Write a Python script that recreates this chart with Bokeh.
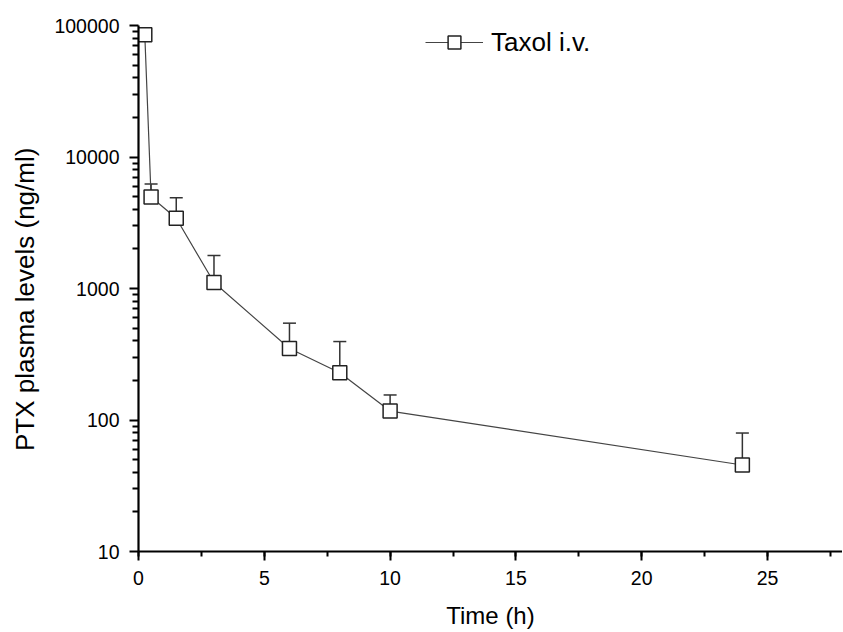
from bokeh.plotting import figure
from bokeh.models import (FixedTicker, SingleIntervalTicker, NumeralTickFormatter, Whisker,
                          ColumnDataSource, TeeHead, Range1d)
from bokeh.embed import file_html
from bokeh.resources import INLINE

# data
time_h = [0.25, 0.5, 1.5, 3, 6, 8, 10, 24]
ptx_mean = [85000, 4970, 3420, 1110, 350, 229, 117, 45.5]
ptx_upper = [85000, 6240, 4900, 1780, 545, 395, 155, 79.6]
y_major = [10, 100, 1000, 10000, 100000]
series_label = "Taxol i.v."
x_title = "Time (h)"
y_title = "PTX plasma levels (ng/ml)"

src = ColumnDataSource(dict(t=time_h, y=ptx_mean, up=ptx_upper))

FONT = "Liberation Sans"
p = figure(width=842, height=632, output_backend="svg", toolbar_location=None,
           y_axis_type="log", x_range=Range1d(0, 27.98), y_range=Range1d(10, 100000),
           min_border_left=138, min_border_right=0, min_border_top=25, min_border_bottom=81)
p.outline_line_color = None
p.xgrid.visible = False
p.ygrid.visible = False

w = Whisker(source=src, base="t", lower="y", upper="up", line_color="#333333", line_width=1.5,
            upper_head=TeeHead(size=13, line_color="#333333", line_width=1.5), lower_head=None)
p.add_layout(w)

p.line("t", "y", source=src, line_color="#444444", line_width=1.2, legend_label=series_label)
p.scatter("t", "y", source=src, marker="square", size=14, fill_color="white",
          line_color="#222222", line_width=1.5, legend_label=series_label)

minor = []
for d in y_major[:-1]:
    for k in range(2, 10):
        minor.append(d * k)
p.yaxis.ticker = FixedTicker(ticks=y_major, minor_ticks=minor)
p.yaxis.formatter = NumeralTickFormatter(format="0")
p.xaxis.ticker = SingleIntervalTicker(interval=5, num_minor_ticks=2)

for ax in (p.xaxis, p.yaxis):
    ax.axis_line_width = 2.2
    ax.axis_line_color = "black"
    ax.major_tick_line_width = 2
    ax.minor_tick_line_width = 2
    ax.major_tick_in = 0
    ax.minor_tick_in = 0
    ax.major_tick_out = 9
    ax.minor_tick_out = 6
    ax.major_label_text_font = FONT
    ax.major_label_text_font_size = "19.5px"
    ax.major_label_text_color = "black"
    ax.axis_label_text_font = FONT
    ax.axis_label_text_font_style = "normal"
    ax.axis_label_text_color = "black"

p.xaxis.minor_tick_out = 5
p.xaxis.axis_label = x_title
p.yaxis.axis_label = y_title + "\u00a0\u00a0\u00a0"
p.xaxis.axis_label_text_font_size = "24px"
p.yaxis.axis_label_text_font_size = "26px"
p.xaxis.major_label_standoff = 10
p.yaxis.major_label_standoff = 10
p.xaxis.axis_label_standoff = 14
p.yaxis.axis_label_standoff = 11

lg = p.legend[0]
lg.location = (287, 493)
lg.padding = 0
lg.margin = 0
lg.border_line_alpha = 0
lg.background_fill_alpha = 0
lg.glyph_width = 58
lg.glyph_height = 32
lg.label_standoff = 8
lg.label_text_font = FONT
lg.label_text_font_size = "26px"
lg.label_text_color = "black"

open("out.html", "w").write(file_html(p, INLINE))
